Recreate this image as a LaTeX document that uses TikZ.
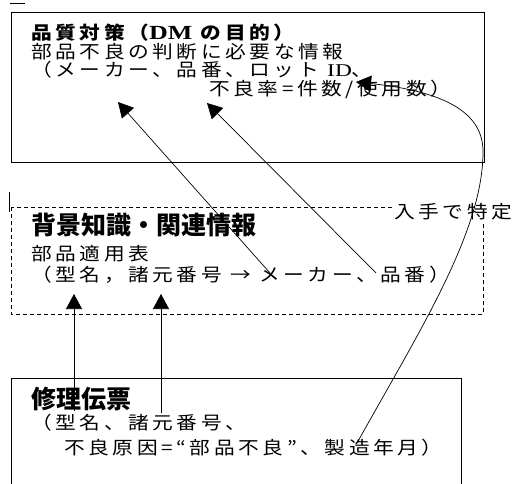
\documentclass[tikz,border=0pt]{standalone}
\usepackage{fontspec}
\setmainfont[FakeStretch=1.3]{Liberation Serif}
\newfontfamily\cjk[FakeStretch=1.15,LetterSpace=20]{Noto Sans CJK JP}
\newfontfamily\cjkt{Noto Sans CJK JP}
\usetikzlibrary{arrows.meta}
\begin{document}
\begin{tikzpicture}[x=1pt,y=-1pt,
  box/.style={draw,line width=1pt},
  dbox/.style={draw,line width=0.9pt,dash pattern=on 4pt off 3pt},
  txt/.style={anchor=base west,inner sep=0pt,font=\cjk\fontsize{18}{18}\selectfont},
  ttl/.style={anchor=base west,inner sep=0pt,font=\cjk\bfseries\fontsize{18}{18}\selectfont},
  bigttl/.style={anchor=base west,inner sep=0pt,font=\cjkt\bfseries\fontsize{25}{25}\selectfont},
  arr/.style={-{Triangle[width=16pt,length=15pt]},line width=0.7pt}]
\useasboundingbox (0,0) rectangle (512,484);
% stray marks
\draw[line width=1pt] (10,4) -- (25,4);
\draw[line width=1.8pt] (9.5,192) -- (9.5,212);
% boxes
\draw[box] (11,13) rectangle (484,163);
\draw[dbox] (11,207) rectangle (483,314);
\draw[box] (11,486) -- (11,378) -- (461,378) -- (461,486);
% top box text
\node[ttl] (t1) at (31,40) {品質対策（{\rmfamily\fontsize{20}{20}\selectfont DM} の目的）};
\node[txt] (t2) at (31,59) {部品不良の判断に必要な情報};
\node[txt] (t3) at (31,77) {（メーカー、品番、ロット {\rmfamily ID}、};
\node[txt] (t4) at (209,96) {不良率=件数/使用数）};
% middle box text
\node[bigttl] (m1) at (31,235) {背景知識・関連情報};
\node[txt] (m2) at (31,261) {部品適用表};
\node[txt] (m3) at (31,282) {（型名，諸元番号 → メーカー、品番）};
% bottom box text
\node[bigttl] (b1) at (31,408) {修理伝票};
\node[txt] (b2) at (31,429) {（型名、諸元番号、};
\node[txt] (b3) at (64,454) {不良原因=“部品不良”、製造年月）};
% label
\node[txt,fill=white,inner sep=1pt] (lab) at (393,219) {入手で特定};
% connector end points
\coordinate (a1s) at (270,273);
\coordinate (a1e) at (118,102);
\coordinate (a2s) at (376,273);
\coordinate (a2e) at (207,103);
\coordinate (v1s) at (74,411);
\coordinate (v1e) at (74,294);
\coordinate (v2s) at (161,413);
\coordinate (v2e) at (161,294);
\coordinate (cs) at (357,443);
\coordinate (cm) at (483,150);
\coordinate (ce) at (356,82);
% connectors
\draw[arr] (a1s) -- (a1e);
\draw[arr] (a2s) -- (a2e);
\draw[arr] (v1s) -- (v1e);
\draw[arr] (v2s) -- (v2e);
\draw[arr] (cs) .. controls (420,330) and (484,230) .. (cm)
  .. controls (482,115) and (450,92) .. (ce);
\end{tikzpicture}
\end{document}
